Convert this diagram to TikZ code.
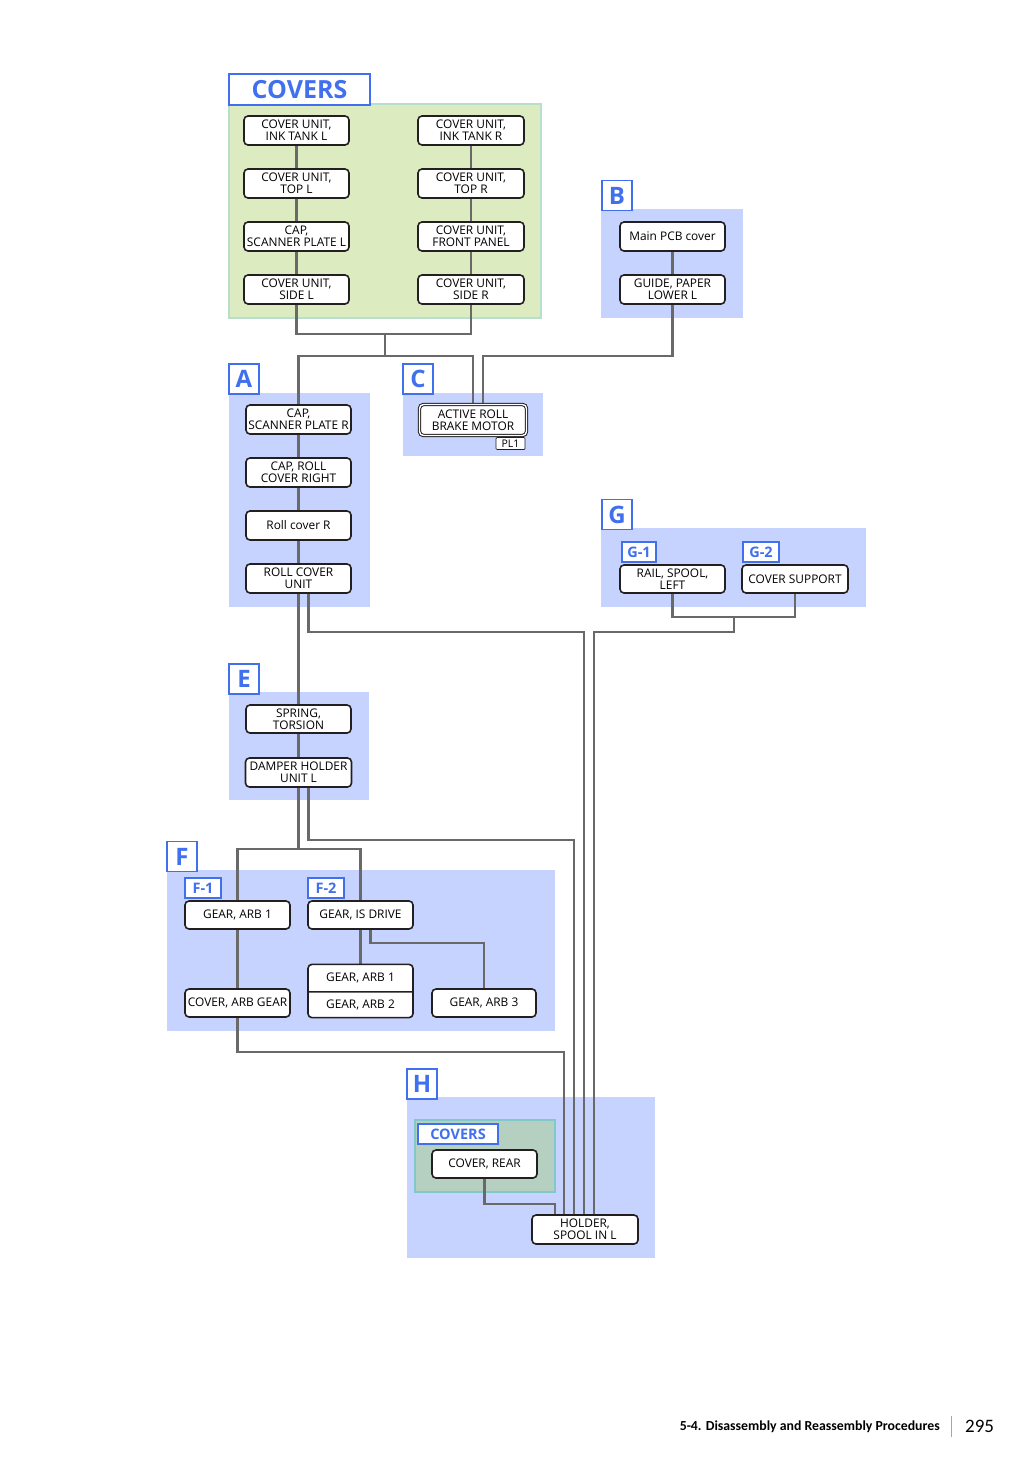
\documentclass[tikz,border=0pt]{standalone}
\usepackage{fontspec}
\setmainfont{Open Sans}
\newfontfamily\footfont{Carlito}
\usetikzlibrary{shapes.multipart}
\pgfdeclarelayer{panels}
\pgfdeclarelayer{wires}
\pgfsetlayers{panels,wires,main}
\definecolor{pblue}{RGB}{198,211,254}
\definecolor{lblue}{RGB}{64,112,238}
\definecolor{pgreen}{RGB}{221,235,192}
\definecolor{bgreen}{RGB}{184,222,206}
\definecolor{hgreen}{RGB}{181,207,192}
\definecolor{hgreenb}{RGB}{130,200,200}
\definecolor{lgray}{RGB}{105,105,105}
\definecolor{bdark}{RGB}{35,31,32}
\begin{document}
\begin{tikzpicture}[x=1pt,y=-1pt,
  bxbase/.style={draw=bdark, line width=1.6pt, fill=white, rounded corners=4pt, inner sep=0pt,
    font=\fontsize{11.9}{12}\selectfont},
  bx/.style={bxbase, align=center, minimum width=105pt, minimum height=29pt},
  lbl/.style={draw=lblue, line width=1.5pt, fill=white, text=lblue, inner sep=0pt,
    font=\bfseries\fontsize{24}{24}\selectfont, minimum width=30pt, minimum height=30pt},
  sublbl/.style={draw=lblue, line width=1.3pt, fill=white, text=lblue, inner sep=0pt,
    font=\bfseries\fontsize{14.5}{14.5}\selectfont, minimum width=36pt, minimum height=20pt},
  ln/.style={draw=lgray, line width=2.2pt}]
\useasboundingbox (0,0) rectangle (1034,1462);

% ---------- panels ----------
\begin{pgfonlayer}{panels}
\draw[bgreen, line width=1.2pt, fill=pgreen] (229,104) rectangle (541,318);
\fill[pblue] (601,209) rectangle (743,318);
\fill[pblue] (229,393) rectangle (370,607);
\fill[pblue] (403,393) rectangle (543,456);
\fill[pblue] (601,528) rectangle (866,607);
\fill[pblue] (229,692) rectangle (369,800);
\fill[pblue] (167,870) rectangle (555,1031);
\fill[pblue] (407,1097) rectangle (655,1258);
\draw[hgreenb, line width=1.2pt, fill=hgreen] (415,1120) rectangle (555,1192);
\end{pgfonlayer}

% ---------- labels ----------
\node[lbl, minimum width=141pt, minimum height=31pt, font=\bfseries\fontsize{25}{25}\selectfont] (tcov) at (299.5,89.5) {COVERS};
\node[lbl] (la) at (244,379) {A};
\node[lbl] (lb) at (617,195.5) {B};
\node[lbl] (lc) at (418,379) {C};
\node[lbl] (lg) at (617,514.5) {G};
\node[lbl] (le) at (244,679) {E};
\node[lbl] (lf) at (182,856.5) {F};
\node[lbl] (lh) at (422,1084) {H};
\node[sublbl, minimum width=34pt] (lg1) at (639,552) {G-1};
\node[sublbl] (lg2) at (761,552) {G-2};
\node[sublbl] (lf1) at (203,888) {F-1};
\node[sublbl] (lf2) at (326,888) {F-2};
\node[sublbl, minimum width=80pt] (lhc) at (458,1134) {COVERS};

% ---------- COVERS ----------
\node[bx] (cl1) at (296.5,130.5) {COVER UNIT,\\INK TANK L};
\node[bx] (cl2) at (296.5,183.5) {COVER UNIT,\\TOP L};
\node[bx] (cl3) at (296.5,236.5) {CAP,\\SCANNER PLATE L};
\node[bx] (cl4) at (296.5,289.5) {COVER UNIT,\\SIDE L};
\node[bx, minimum width=106pt] (cr1) at (471,130.5) {COVER UNIT,\\INK TANK R};
\node[bx, minimum width=106pt] (cr2) at (471,183.5) {COVER UNIT,\\TOP R};
\node[bx, minimum width=106pt] (cr3) at (471,236.5) {COVER UNIT,\\FRONT PANEL};
\node[bx, minimum width=106pt] (cr4) at (471,289.5) {COVER UNIT,\\SIDE R};

% ---------- B ----------
\node[bx] (bm) at (672.5,236.5) {Main PCB cover};
\node[bx] (bg) at (672.5,289.5) {GUIDE, PAPER\\LOWER L};

% ---------- A ----------
\node[bx] (ca1) at (298.5,419.5) {CAP,\\SCANNER PLATE R};
\node[bx] (ca2) at (298.5,472.5) {CAP, ROLL\\COVER RIGHT};
\node[bx] (ca3) at (298.5,525.5) {Roll cover R};
\node[bx] (ca4) at (298.5,578.5) {ROLL COVER\\UNIT};

% ---------- C ----------
\node[bx, line width=1pt, double=white, double distance=1.4pt, minimum width=107pt, minimum height=31pt] (cm) at (473,420) {ACTIVE ROLL\\BRAKE MOTOR};
\node[draw=bdark, line width=0.7pt, fill=white, inner sep=0pt, rounded corners=1pt,
  minimum width=29pt, minimum height=12pt, font=\fontsize{10.5}{10.5}\selectfont] (pl) at (510.5,443.5) {PL1};

% ---------- G ----------
\node[bx, minimum height=28pt] (gr1) at (672.5,579) {RAIL, SPOOL,\\LEFT};
\node[bx, minimum width=106pt, minimum height=28pt] (gr2) at (795,579) {COVER SUPPORT};

% ---------- E ----------
\node[bx, minimum height=28pt] (se1) at (298.5,719) {SPRING,\\TORSION};
\node[bx, minimum width=106pt] (se2) at (298.5,772.5) {DAMPER HOLDER\\UNIT L};

% ---------- F ----------
\node[bx, minimum height=28pt] (fg1) at (237.5,915) {GEAR, ARB 1};
\node[bx, minimum height=28pt] (fgd) at (360.5,915) {GEAR, IS DRIVE};
\node[bx, minimum height=28pt] (fcv) at (237.5,1003) {COVER, ARB GEAR};
\node[bxbase, rectangle split, rectangle split parts=2, minimum width=105pt,
  text height=9pt, text depth=3pt, inner ysep=7pt] (fst) at (360.5,991) {GEAR, ARB 1\nodepart{two}GEAR, ARB 2};
\node[bx, minimum width=104pt, minimum height=28pt] (fg3) at (484,1003) {GEAR, ARB 3};

% ---------- H ----------
\node[bx, minimum height=28pt] (hcr) at (484.5,1164) {COVER, REAR};
\node[bx, minimum width=106pt] (hl) at (585,1229.5) {HOLDER,\\SPOOL IN L};

% ---------- footer ----------
\node[anchor=base east, inner sep=0pt, font=\footfont\bfseries\fontsize{13.8}{14}\selectfont] (ft) at (940,1430) {5-4. Disassembly and Reassembly Procedures};
\draw[black!35, line width=0.8pt] (951,1416) -- (951,1437);
\node[anchor=base west, inner sep=0pt, font=\footfont\fontsize{19}{19}\selectfont] (pg) at (965,1432) {295};

% ---------- connectors ----------
\begin{pgfonlayer}{wires}
\draw[ln] (cl1) -- (cl2) -- (cl3) -- (cl4);
\draw[ln] (cr1) -- (cr2) -- (cr3) -- (cr4);
\coordinate (j1) at (385,334);
\coordinate (j2) at (385,356);
\draw[ln] (cl4.south) |- (j1) -| (cr4.south);
\draw[ln] (j1) -- (j2);
\draw[ln] (ca1.north) |- (j2) -| (cm.north);
\draw[ln] (bm) -- (bg);
\draw[ln] (bg.south) |- (483,356) -- ([xshift=10pt]cm.north);
\draw[ln] (ca1) -- (ca2) -- (ca3) -- (ca4) -- (se1) -- (se2);
\draw[ln] ([xshift=10pt]ca4.south) |- (584,632) -- ([xshift=-1pt]hl.north);
\coordinate (jg) at (734,617);
\draw[ln] (gr1.south) |- (jg) -| (gr2.south);
\draw[ln] (jg) -- (734,632) -| ([xshift=9pt]hl.north);
\coordinate (jf) at (298.5,849);
\draw[ln] (se2.south) -- (jf);
\draw[ln] (fg1.north) |- (jf) -| (fgd.north);
\draw[ln] ([xshift=10pt]se2.south) |- (574,840) -- ([xshift=-11pt]hl.north);
\draw[ln] (fg1) -- (fcv);
\draw[ln] (fgd.south) -- (fst.north);
\draw[ln] ([xshift=10pt]fgd.south) -- ++(0,13) -| (fg3.north);
\draw[ln] (fcv.south) |- (564,1052) -- ([xshift=-21pt]hl.north);
\draw[ln] (hcr.south) |- (555,1204) -- ([xshift=-30pt]hl.north);
\end{pgfonlayer}
\end{tikzpicture}
\end{document}
